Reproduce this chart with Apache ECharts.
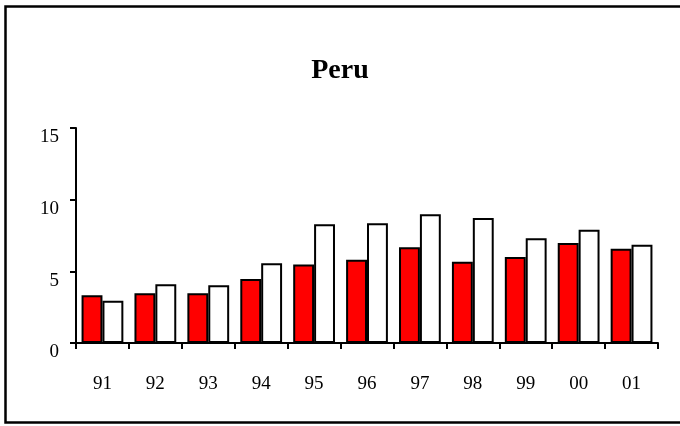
<!DOCTYPE html>
<html><head><meta charset="utf-8">
<script src="https://cdn.jsdelivr.net/npm/echarts@6/dist/echarts.min.js"></script>
<style>html,body{margin:0;padding:0;background:#fff}#c{width:680px;height:426px}</style>
</head><body><div id="c"></div>
<script>
const categories = ['91','92','93','94','95','96','97','98','99','00','01'];
const seriesRed = [3.33, 3.47, 3.47, 4.47, 5.47, 5.81, 6.68, 5.67, 6.0, 6.98, 6.58];
const seriesWhite = [2.95, 4.1, 4.03, 5.56, 8.28, 8.35, 8.98, 8.72, 7.3, 7.9, 6.86];
const yTicks = [0, 5, 10, 15];

const chart = echarts.init(document.getElementById('c'), null, {renderer:'canvas'});
const font = '"Liberation Serif", "Times New Roman", serif';
chart.setOption({
  animation:false,
  backgroundColor:'#fff',
  title:{text:'Peru', left:'center', top:52, textStyle:{fontFamily:font, fontSize:28, fontWeight:'bold', color:'#000'}},
  graphic:[{type:'rect', shape:{x:5.5, y:6.5, width:700, height:416}, style:{fill:'none', stroke:'#000', lineWidth:2.5}, silent:true, z:-1}],
  grid:{left:76, right:22, top:128, bottom:83, containLabel:false},
  xAxis:{type:'category', data:categories,
    axisLine:{lineStyle:{color:'#000', width:2}},
    axisTick:{show:true, alignWithLabel:false, length:6, lineStyle:{color:'#000', width:2}},
    axisLabel:{fontFamily:font, fontSize:19, color:'#000', margin:32}},
  yAxis:{type:'value', min:yTicks[0], max:yTicks[yTicks.length-1], interval:5,
    splitLine:{show:false},
    axisLine:{show:true, lineStyle:{color:'#000', width:2}},
    axisTick:{show:true, length:6, lineStyle:{color:'#000', width:2}},
    axisLabel:{fontFamily:font, fontSize:19, color:'#000', margin:17, verticalAlign:'top'}},
  series:[
    {type:'bar', data:seriesRed, barGap:'0%', barCategoryGap:'21%',
      itemStyle:{color:'#ff0000', borderColor:'#000', borderWidth:2}},
    {type:'bar', data:seriesWhite,
      itemStyle:{color:'#ffffff', borderColor:'#000', borderWidth:2}}
  ]
});
</script></body></html>
